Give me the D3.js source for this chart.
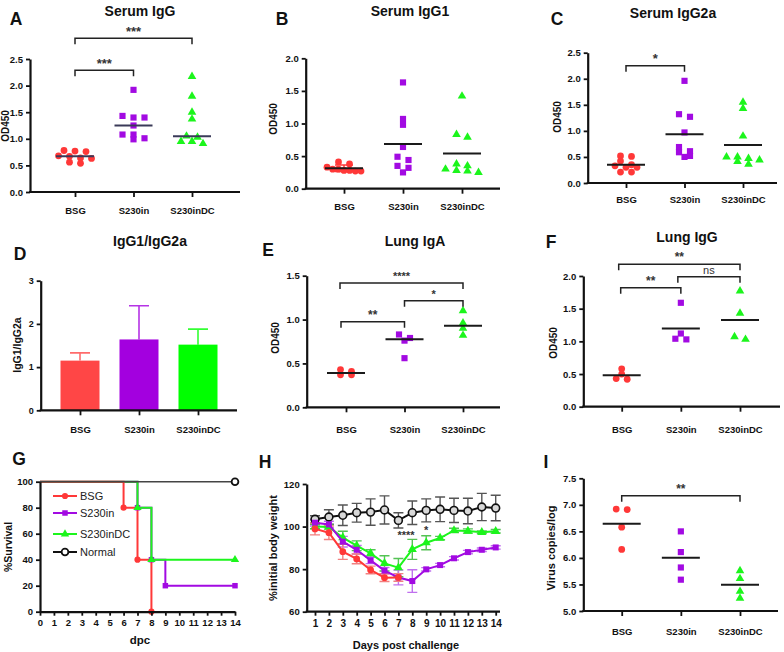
<!DOCTYPE html>
<html><head><meta charset="utf-8">
<script src="https://cdn.jsdelivr.net/npm/d3@7"></script>
<style>
body{margin:0;background:#fff}
svg{display:block}
text{font-family:"Liberation Sans",Arial,sans-serif}
</style>
</head><body>
<svg id="c" width="784" height="652"></svg>
<script>
// ---------------- DATA ----------------
const groups = ["BSG", "S230in", "S230inDC"];

// A: Serum IgG (median line)
const iggBSG = [0.78, 0.77, 0.76, 0.68, 0.64, 0.67, 0.63, 0.54, 0.56];
const iggS230in = [1.92, 1.40, 1.40, 1.43, 1.25, 1.08, 0.99, 1.08, 1.01];
const iggS230inDC = [2.17, 1.80, 1.50, 1.37, 1.05, 1.03, 0.91, 0.95, 0.95];
const iggTicks = [0, 0.5, 1.0, 1.5, 2.0, 2.5];

// B: Serum IgG1 (mean line)
const igg1BSG = [0.38, 0.30, 0.27, 0.28, 0.30, 0.33, 0.41, 0.27, 0.28];
const igg1S230in = [1.63, 1.07, 0.98, 0.64, 0.49, 0.35, 0.44, 0.32, 0.25];
const igg1S230inDC = [1.42, 0.83, 0.79, 0.35, 0.38, 0.30, 0.25, 0.27, 0.28];
const igg1Ticks = [0, 0.5, 1.0, 1.5, 2.0];

// C: Serum IgG2a (mean line)
const igg2aBSG = [0.51, 0.52, 0.42, 0.33, 0.30, 0.35, 0.30, 0.21, 0.21];
const igg2aS230in = [1.96, 1.27, 1.32, 0.97, 0.69, 0.61, 0.59, 0.50, 0.52];
const igg2aS230inDC = [1.55, 1.43, 0.90, 0.50, 0.47, 0.44, 0.50, 0.41, 0.36];
const igg2aTicks = [0, 0.5, 1.0, 1.5, 2.0, 2.5];

// D: IgG1/IgG2a ratio (mean + SD)
const ratioMean = [1.15, 1.64, 1.52];
const ratioSD = [0.18, 0.78, 0.36];
const ratioTicks = [0, 1, 2, 3];

// E: Lung IgA (median line)
const igaBSG = [0.37, 0.41, 0.43, 0.37];
const igaS230in = [0.83, 0.76, 0.79, 0.56];
const igaS230inDC = [1.10, 0.96, 0.90, 0.82];
const igaTicks = [0, 0.5, 1.0, 1.5];

// F: Lung IgG (mean line)
const lungIggBSG = [0.58, 0.50, 0.42, 0.43];
const lungIggS230in = [1.59, 1.12, 1.03, 1.04];
const lungIggS230inDC = [1.77, 1.43, 1.03, 1.07];
const lungIggTicks = [0, 0.5, 1.0, 1.5, 2.0];

// G: survival (step curves)
const survNames = ["BSG", "S230in", "S230inDC", "Normal"];
const survBSGDays = [0, 6, 7, 8];
const survBSG = [100, 80, 40, 0];
const survS230inDays = [0, 7, 8, 9, 14];
const survS230in = [100, 80, 40, 20, 20];
const survS230inDCDays = [0, 7, 8, 14];
const survS230inDC = [100, 80, 40, 40];
const survNormalDays = [0, 14];
const survNormal = [100, 100];
const survXTicks = [0,1,2,3,4,5,6,7,8,9,10,11,12,13,14];
const survYTicks = [0, 20, 40, 60, 80, 100];

// H: body weight (mean + SD)
const days = [1,2,3,4,5,6,7,8,9,10,11,12,13,14];
const wNormal = [103.4,104.5,105.3,106.5,106.8,107.8,102.9,106.5,107.6,108.1,107.6,107.3,109.2,108.7];
const wNormalSD = [1.7,3.4,4.8,4.4,6.2,6.6,3.6,5.5,5.4,5.8,5.7,6.0,6.4,6.0];
const wS230inDC = [100,99.8,94.8,91,87.4,82.7,80.7,89.3,92.4,94.6,98.2,97.9,97.3,97.8];
const wS230inDCSD = [1,1,3,2.3,1.7,3.6,4.3,4.7,3.3,0.8,1,1,0.6,0.8];
const wS230in = [101.8,101,92.9,89.1,84.1,79.3,76.1,74.4,79.9,81.9,85.1,88,89.1,90.2];
const wS230inSD = [1.5,1.5,2.5,2,1.5,1.5,3.5,5.3,0.8,0.8,0.8,0.8,0.8,0.8];
const wBSGDays = [1,2,3,4,5,6,7];
const wBSG = [98.9,97.1,88.2,84.8,79.6,76,76.1];
const wBSGSD = [2.8,3.2,3.6,2.3,1.8,1.8,1.8];
const wYTicks = [60, 80, 100, 120];
const wMarks = [["****", 7.55, 96.2], ["*", 9, 98.6]];

// I: virus copies (mean line)
const virBSG = [6.92, 6.91, 6.58, 6.16];
const virS230in = [6.50, 6.11, 5.82, 5.59];
const virS230inDC = [5.76, 5.61, 5.37, 5.24];
const virTicks = [5.0, 5.5, 6.0, 6.5, 7.0, 7.5];

// ---------------- STYLE ----------------
const colors = {BSG: "#ff3838", S230in: "#a20ae2", S230inDC: "#1cf51c", Normal: "#111"};
const barColors = {BSG: "#ff4646", S230in: "#a300df", S230inDC: "#00ff00"};
const symbols = {BSG: d3.symbolCircle, S230in: d3.symbolSquare, S230inDC: d3.symbolTriangle, Normal: d3.symbolCircle};
const symSize = {BSG: 36, S230in: 38, S230inDC: 32, Normal: 40};

const svg = d3.select("#c");
const FONT = '"Liberation Sans", Arial, sans-serif';

function txt(x, y, s, o = {}) {
  const t = svg.append("text").attr("x", x).attr("y", y).text(s)
    .attr("font-size", o.size || 12).attr("font-weight", o.weight || "bold")
    .attr("text-anchor", o.anchor || "middle").attr("dominant-baseline", "central")
    .attr("fill", o.fill || "#111").style("font-family", FONT);
  if (o.rotate) t.attr("transform", `rotate(-90,${x},${y})`);
  return t;
}

function styleAxis(g, size) {
  g.selectAll("text").attr("font-size", size).attr("font-weight", "bold").attr("fill", "#111").style("font-family", FONT);
  g.selectAll("line").attr("stroke", "#111").attr("stroke-width", 1.8);
  g.selectAll(".domain").attr("stroke", "#111").attr("stroke-width", 2.2);
}

// beeswarm-like row layout (GraphPad style)
function swarm(vals, y, cx) {
  const pts = vals.map(v => ({v, y: y(v)})).sort((a, b) => a.y - b.y);
  const rows = [];
  pts.forEach(p => {
    const r = rows[rows.length - 1];
    if (r && p.y - r[0].y < 4.5) r.push(p); else rows.push([p]);
  });
  rows.forEach(r => {
    const step = r.length > 1 ? Math.min(11, 34 / (r.length - 1)) : 0;
    r.forEach((p, i) => p.x = cx + (i - (r.length - 1) / 2) * step);
  });
  return pts;
}

function bracket(x1, x2, yy, label, labelSize, labelWeight) {
  svg.append("path").attr("d", `M${x1},${yy + 6}V${yy}H${x2}V${yy + 6}`)
    .attr("fill", "none").attr("stroke", "#222").attr("stroke-width", 1.5);
  txt((x1 + x2) / 2, yy - 7, label, {size: labelSize || 13, weight: labelWeight || "bold", fill: "#333"});
}

const TICK = 9.5, CAT = 9.5;

function scatter(p) {
  const x = d3.scalePoint().domain(groups).range([p.t0, p.t2]);
  const y = d3.scaleLinear().domain(p.domain).range([p.yb, p.yt]);
  const ya = svg.append("g").attr("transform", `translate(${p.ax},0)`)
    .call(d3.axisLeft(y).tickValues(p.ticks).tickFormat(p.fmt).tickSize(4).tickSizeOuter(0).tickPadding(3));
  styleAxis(ya, TICK);
  const xa = svg.append("g").attr("transform", `translate(0,${p.yb})`)
    .call(d3.axisBottom(x).tickSize(5).tickSizeOuter(0));
  xa.select(".domain").remove();
  styleAxis(xa, CAT);
  xa.selectAll("text").attr("y", p.catY - p.yb).attr("dy", "0.35em");
  svg.append("line").attr("x1", p.ax - 1).attr("x2", p.xe).attr("y1", p.yb).attr("y2", p.yb)
    .attr("stroke", "#111").attr("stroke-width", 2.2);

  groups.forEach((gname, i) => {
    const vals = p.data[i];
    if (!vals) return;
    const cx = x(gname);
    const pts = swarm(vals, y, cx);
    svg.append("g").selectAll("path").data(pts).join("path")
      .attr("d", d3.symbol(symbols[gname], symSize[gname]))
      .attr("transform", d => `translate(${d.x},${d.y})`)
      .attr("fill", colors[gname]);
    const c = p.agg === "median" ? d3.median(vals) : d3.mean(vals);
    if (p.errGroups && p.errGroups.includes(gname)) {
      const sd = d3.deviation(vals);
      svg.append("path").attr("d", `M${cx - 9},${y(c + sd)}H${cx + 9}M${cx},${y(c + sd)}V${y(c - sd)}M${cx - 9},${y(c - sd)}H${cx + 9}`)
        .attr("stroke", colors[gname]).attr("stroke-width", 1.5).attr("fill", "none");
    }
    svg.append("line").attr("x1", cx - 19).attr("x2", cx + 19).attr("y1", y(c)).attr("y2", y(c))
      .attr("stroke", p.lineColor || "#1a1a1a").attr("stroke-width", 2);
  });
  (p.brackets || []).forEach(b => {
    bracket(x(b[0]) + (b[4] || 0), x(b[1]) + (b[5] || 0), y(b[2]), b[3], b[6], b[7]);
  });
  if (p.title) txt(p.tx, p.ty, p.title, {size: 14});
  txt(p.lx, p.ly, p.letter, {size: 17.5});
  txt(p.ylx, p.yly, p.ylab, {size: p.ylabSize || 10, rotate: true});
}

const f1 = d3.format(".1f");

// A
scatter({ax: 30, xe: 240, t0: 75, t2: 192, yb: 192, yt: 59, domain: [0, 2.5], ticks: iggTicks, fmt: f1,
  data: [iggBSG, iggS230in, iggS230inDC], agg: "median", lineColor: "#3a3a58", catY: 211,
  brackets: [["BSG", "S230inDC", 2.89, "***"], ["BSG", "S230in", 2.29, "***"]],
  title: "Serum IgG", tx: 140, ty: 11, letter: "A", lx: 16, ly: 19, ylab: "OD450", ylx: 5.5, yly: 126});
// B
scatter({ax: 305.7, xe: 500, t0: 344, t2: 462, yb: 188.7, yt: 58.3, domain: [0, 2.0], ticks: igg1Ticks, fmt: f1,
  data: [igg1BSG, igg1S230in, igg1S230inDC], agg: "mean", catY: 207, errGroups: ["BSG"],
  title: "Serum IgG1", tx: 410, ty: 11, letter: "B", lx: 282, ly: 19, ylab: "OD450", ylx: 273.5, yly: 119});
// C
scatter({ax: 587.7, xe: 777, t0: 626, t2: 743, yb: 183, yt: 52.7, domain: [0, 2.5], ticks: igg2aTicks, fmt: f1,
  data: [igg2aBSG, igg2aS230in, igg2aS230inDC], agg: "mean", catY: 200,
  brackets: [["BSG", "S230in", 2.25, "*"]],
  title: "Serum IgG2a", tx: 673, ty: 13, letter: "C", lx: 557, ly: 19, ylab: "OD450", ylx: 557, yly: 117});
// E
scatter({ax: 306.7, xe: 500, t0: 346, t2: 463, yb: 407.3, yt: 275.7, domain: [0, 1.5], ticks: igaTicks, fmt: f1,
  data: [igaBSG, igaS230in, igaS230inDC], agg: "median", catY: 430,
  brackets: [["BSG", "S230inDC", 1.417, "****", -6, 0, 11], ["S230in", "S230inDC", 1.215, "*", 0, 0, 11], ["BSG", "S230in", 0.976, "**", -5, 0, 12]],
  title: "Lung IgA", tx: 415, ty: 241, letter: "E", lx: 268, ly: 250, ylab: "OD450", ylx: 275, yly: 338});
// F
scatter({ax: 583.3, xe: 780, t0: 621.7, t2: 740, yb: 406.7, yt: 276, domain: [0, 2.0], ticks: lungIggTicks, fmt: f1,
  data: [lungIggBSG, lungIggS230in, lungIggS230inDC], agg: "mean", catY: 430,
  brackets: [["BSG", "S230inDC", 2.18, "**", -3, 0, 12], ["S230in", "S230inDC", 1.99, "ns", -3, 0, 11, "normal"], ["BSG", "S230in", 1.82, "**", -1, 0, 12]],
  title: "Lung IgG", tx: 687, ty: 237, letter: "F", lx: 551, ly: 242, ylab: "OD450", ylx: 553, yly: 343});
// I
scatter({ax: 583.3, xe: 778, t0: 621.7, t2: 740, yb: 611, yt: 478.3, domain: [5, 7.5], ticks: virTicks, fmt: f1,
  data: [virBSG, virS230in, virS230inDC], agg: "mean", catY: 632,
  brackets: [["BSG", "S230inDC", 7.17, "**", 0, 0, 12]],
  title: "", letter: "I", lx: 546, ly: 462, ylab: "Virus copies/log", ylabSize: 11, ylx: 551, yly: 548});

// D: bar chart
(function () {
  const x = d3.scalePoint().domain(groups).range([80, 198]);
  const y = d3.scaleLinear().domain([0, 3]).range([410.3, 280.7]);
  const bw = 39;
  groups.forEach((g, i) => {
    const cx = x(g);
    svg.append("path").attr("d", `M${cx},${y(ratioMean[i])}V${y(ratioMean[i] + ratioSD[i])}M${cx - 10},${y(ratioMean[i] + ratioSD[i])}H${cx + 10}`)
      .attr("stroke", barColors[g]).attr("stroke-width", 1.6).attr("fill", "none").attr("opacity", 0.8);
    svg.append("rect").attr("x", cx - bw / 2).attr("width", bw).attr("y", y(ratioMean[i])).attr("height", y(0) - y(ratioMean[i]))
      .attr("fill", barColors[g]);
  });
  const ya = svg.append("g").attr("transform", "translate(40.7,0)")
    .call(d3.axisLeft(y).tickValues(ratioTicks).tickFormat(d3.format("d")).tickSize(4).tickSizeOuter(0).tickPadding(3));
  styleAxis(ya, 9);
  const xa = svg.append("g").attr("transform", "translate(0,410.3)").call(d3.axisBottom(x).tickSize(5).tickSizeOuter(0));
  xa.select(".domain").remove();
  styleAxis(xa, CAT);
  xa.selectAll("text").attr("y", 430 - 410.3).attr("dy", "0.35em");
  svg.append("line").attr("x1", 39.7).attr("x2", 237).attr("y1", 410.3).attr("y2", 410.3).attr("stroke", "#111").attr("stroke-width", 2.2);
  txt(150, 241, "IgG1/IgG2a", {size: 14});
  txt(20, 254, "D", {size: 17.5});
  txt(17, 345, "IgG1/IgG2a", {size: 10.5, rotate: true});
})();

// G: survival
(function () {
  const x = d3.scaleLinear().domain([0, 14]).range([40, 235]);
  const y = d3.scaleLinear().domain([0, 100]).range([611.7, 481.7]);
  const series = [
    ["S230in", survS230inDays, survS230in],
    ["S230inDC", survS230inDCDays, survS230inDC],
    ["BSG", survBSGDays, survBSG],
    ["Normal", survNormalDays, survNormal]
  ];
  const line = d3.line().x(d => x(d[0])).y(d => y(d[1])).curve(d3.curveStepAfter);
  series.forEach(([name, t, s]) => {
    const pts = t.map((d, i) => [d, s[i]]);
    svg.append("path").attr("d", line(pts)).attr("fill", "none")
      .attr("stroke", name === "Normal" ? "#444" : colors[name]).attr("stroke-width", name === "Normal" ? 1.5 : 2);
  });
  series.forEach(([name, t, s]) => {
    const pts = t.map((d, i) => [d, s[i]]).slice(1);
    svg.append("g").selectAll("path").data(pts).join("path")
      .attr("d", d3.symbol(symbols[name], name === "Normal" ? 36 : 30))
      .attr("transform", d => `translate(${x(d[0])},${y(d[1])})`)
      .attr("fill", name === "Normal" ? "#fff" : colors[name])
      .attr("stroke", name === "Normal" ? "#111" : "none").attr("stroke-width", 1.8);
  });
  const ya = svg.append("g").attr("transform", "translate(40,0)")
    .call(d3.axisLeft(y).tickValues(survYTicks).tickSize(4).tickSizeOuter(0).tickPadding(3));
  styleAxis(ya, TICK);
  const xa = svg.append("g").attr("transform", "translate(0,611.7)")
    .call(d3.axisBottom(x).tickValues(survXTicks).tickSize(4).tickSizeOuter(0).tickPadding(4));
  styleAxis(xa, 9.5);
  // legend
  const ly = [496, 513, 534, 552];
  survNames.forEach((name, i) => {
    svg.append("line").attr("x1", 53).attr("x2", 77).attr("y1", ly[i]).attr("y2", ly[i])
      .attr("stroke", name === "Normal" ? "#111" : colors[name]).attr("stroke-width", 2);
    svg.append("path").attr("d", d3.symbol(symbols[name], name === "Normal" ? 36 : 30))
      .attr("transform", `translate(65,${ly[i]})`)
      .attr("fill", name === "Normal" ? "#fff" : colors[name])
      .attr("stroke", name === "Normal" ? "#111" : "none").attr("stroke-width", 1.8);
    txt(80, ly[i], name, {size: 11, weight: "normal", anchor: "start", fill: "#222"});
  });
  txt(19, 459, "G", {size: 17.5});
  txt(8, 547, "%Survival", {size: 10.5, rotate: true});
  txt(140, 640, "dpc", {size: 11.5});
})();

// H: body weight
(function () {
  const x = d3.scaleLinear().domain([1, 14]).range([315, 495.7]);
  const y = d3.scaleLinear().domain([60, 120]).range([611.7, 484]);
  const series = [
    ["Normal", days, wNormal, wNormalSD, "#555"],
    ["S230inDC", days, wS230inDC, wS230inDCSD, "#55c255"],
    ["S230in", days, wS230in, wS230inSD, "#c070ee"],
    ["BSG", wBSGDays, wBSG, wBSGSD, "#f28080"]
  ];
  series.forEach(([name, t, m, sd, ec]) => {
    const g = svg.append("g");
    t.forEach((d, i) => {
      const cx = x(d), y1 = y(m[i] + sd[i]), y2 = y(m[i] - sd[i]);
      g.append("path").attr("d", `M${cx},${y1}V${y2}M${cx - 5},${y1}H${cx + 5}M${cx - 5},${y2}H${cx + 5}`)
        .attr("stroke", ec).attr("stroke-width", 1.4).attr("fill", "none");
    });
  });
  series.forEach(([name, t, m]) => {
    const pts = t.map((d, i) => [d, m[i]]);
    svg.append("path").attr("d", d3.line().x(d => x(d[0])).y(d => y(d[1]))(pts))
      .attr("fill", "none").attr("stroke", colors[name]).attr("stroke-width", 2);
    svg.append("g").selectAll("path").data(pts).join("path")
      .attr("d", d3.symbol(symbols[name], name === "Normal" ? 48 : 36))
      .attr("transform", d => `translate(${x(d[0])},${y(d[1])})`)
      .attr("fill", name === "Normal" ? "#d8d8d8" : colors[name])
      .attr("stroke", name === "Normal" ? "#111" : "none").attr("stroke-width", 1.6);
  });
  const ya = svg.append("g").attr("transform", "translate(306.7,0)")
    .call(d3.axisLeft(y).tickValues(wYTicks).tickSize(4).tickSizeOuter(0).tickPadding(3));
  styleAxis(ya, TICK);
  const xa = svg.append("g").attr("transform", "translate(0,611.7)")
    .call(d3.axisBottom(x).tickValues(days).tickSize(4).tickSizeOuter(0).tickPadding(4));
  xa.select(".domain").remove();
  styleAxis(xa, 10);
  svg.append("line").attr("x1", 305.7).attr("x2", 500).attr("y1", 611.7).attr("y2", 611.7).attr("stroke", "#111").attr("stroke-width", 2.2);
  wMarks.forEach(([s, d, v]) => txt(x(d), y(v), s, {size: 11, fill: "#333"}));
  txt(265, 462, "H", {size: 17.5});
  txt(273, 548, "%initial body weight", {size: 11, rotate: true});
  txt(406, 645, "Days post challenge", {size: 11});
})();
</script>
</body></html>
